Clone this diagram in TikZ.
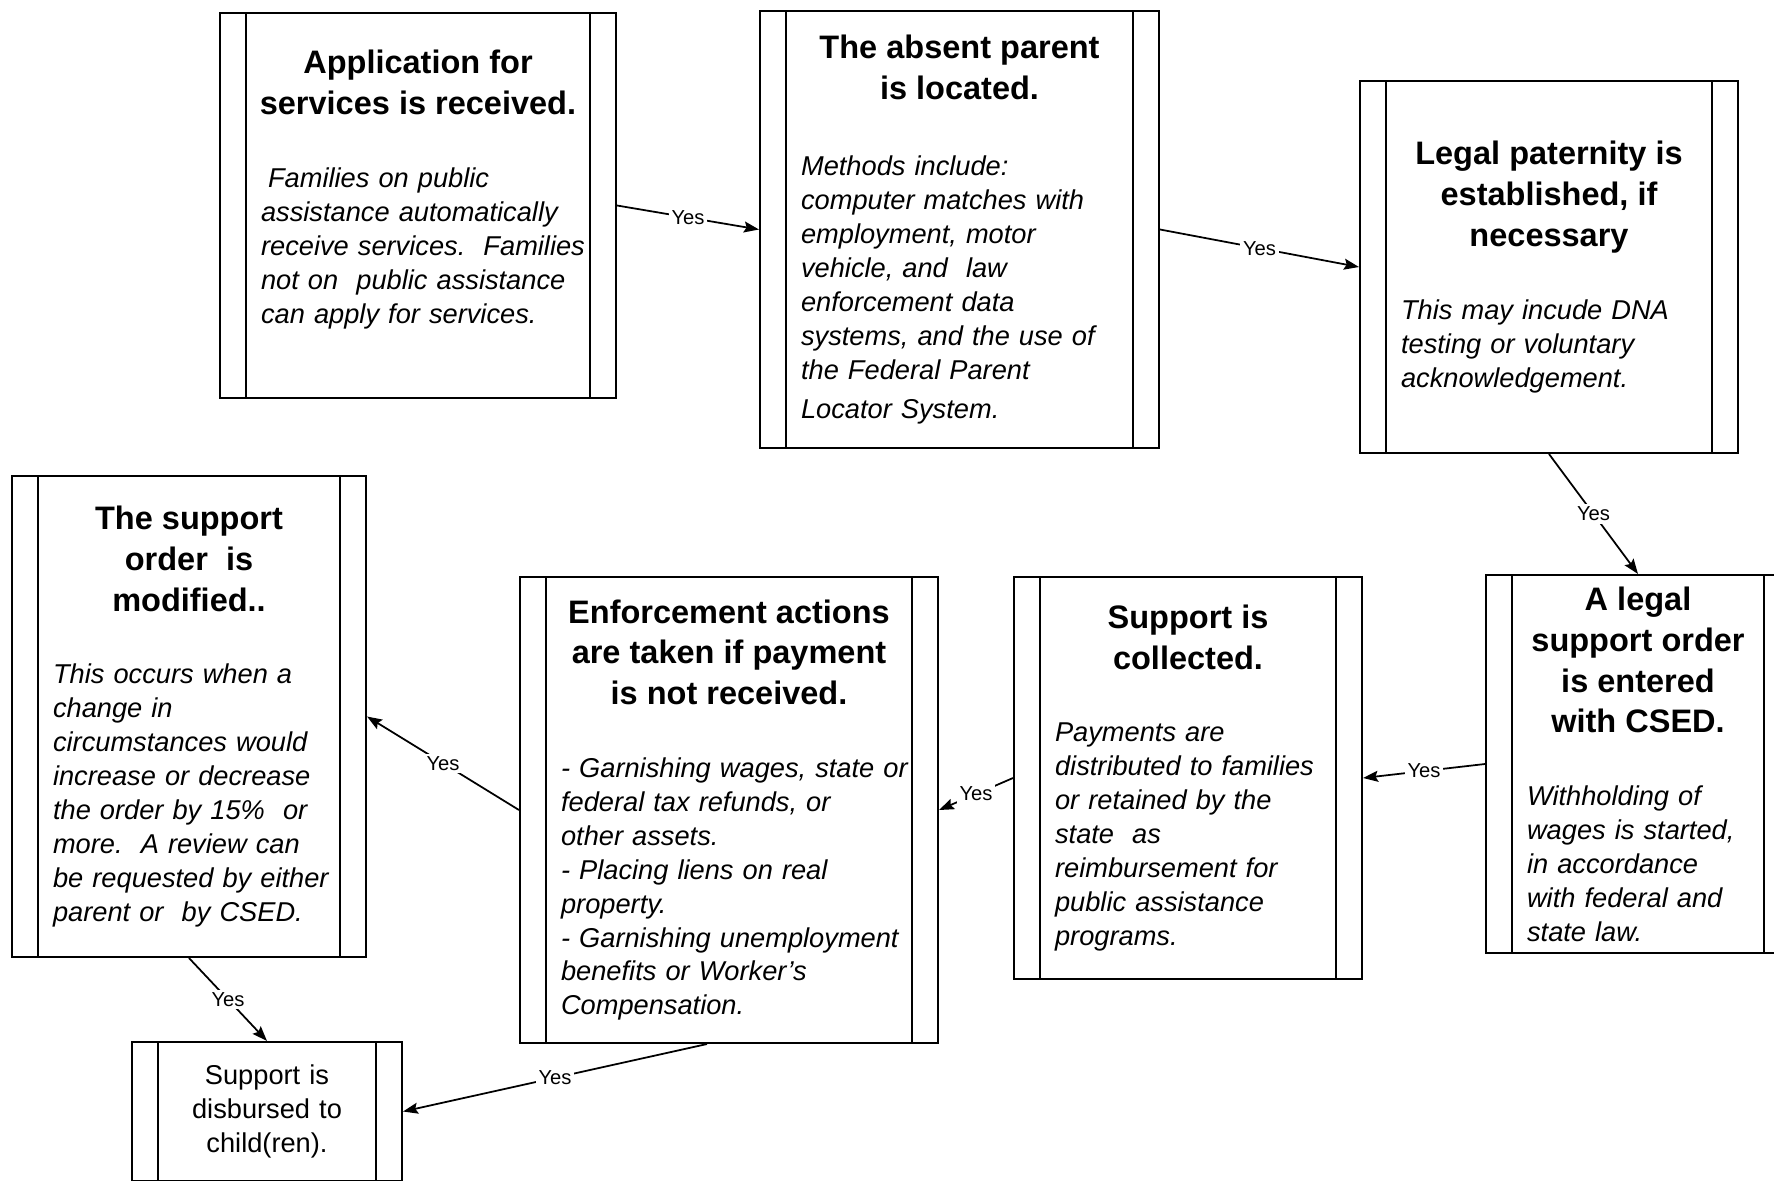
\documentclass[tikz,border=0pt]{standalone}
\usepackage{fontspec}
\setmainfont{Liberation Sans}
\usetikzlibrary{arrows.meta}

\newcommand{\steptext}[2]{{\centering\bfseries\upshape\fontsize{18.5}{23.3}\selectfont #1\par}\vspace{22pt}%
	{\leftskip=4pt\rightskip=-4pt plus 1fil\relax #2\par}}

\begin{document}
\begin{tikzpicture}[x=0.02cm, y=-0.02cm,
			stepbox/.style={draw, line width=1.2pt, fill=white, inner xsep=0.68cm, inner ysep=0pt,
				align=left, font=\itshape\fontsize{15.5}{19.3}\selectfont,
				path picture={\draw[line width=1.2pt]
					([xshift=0.52cm]path picture bounding box.north west) -- ([xshift=0.52cm]path picture bounding box.south west)
					([xshift=-0.52cm]path picture bounding box.north east) -- ([xshift=-0.52cm]path picture bounding box.south east);}},
			flow/.style={-{Stealth[length=0.3cm,width=0.22cm,inset=0.05cm]}, line width=1pt},
			yes/.style={fill=white, inner sep=1.5pt, font=\fontsize{11.5}{13}\selectfont}]
			\useasboundingbox (0,0) rectangle (1774,1180);
			\node[stepbox, text width=6.56cm, minimum height=7.70cm] (apply) at (418,205.5)
				{\steptext{Application for\\services is received.}
				{\hspace{4pt}Families on public\\assistance automatically\\receive services.\ \ Families\\not on\ \ public assistance\\can apply for services.\\[2pt]\mbox{}}};
			\node[stepbox, text width=6.62cm, minimum height=8.74cm] (locate) at (959.5,229.5)
				{\steptext{The absent parent\\is located.}
				{\vspace{2pt}Methods include:\\computer matches with\\employment, motor\\vehicle, and\ \ law\\enforcement data\\systems, and the use of\\the Federal Parent\\[3pt]Locator System.}};
			\node[stepbox, text width=6.20cm, minimum height=7.44cm] (paternity) at (1549,267)
				{\steptext{Legal paternity is\\established, if\\necessary}
				{This may incude DNA\\testing or voluntary\\acknowledgement.}};
			\node[stepbox, text width=4.72cm, minimum height=7.56cm] (order) at (1638,764)
				{\steptext{A legal\\support order\\is entered\\with CSED.}
				{Withholding of\\wages is started,\\in accordance\\with federal and\\state law.}};
			\node[stepbox, text width=5.60cm, minimum height=8.04cm] (collect) at (1188,778)
				{\steptext{Support is\\collected.}
				{Payments are\\distributed to families\\or retained by the\\state\ \ as\\reimbursement for\\public assistance\\programs.}};
			\node[stepbox, text width=7.00cm, minimum height=9.32cm] (enforce) at (729,810)
				{\steptext{Enforcement actions\\are taken if payment\\is not received.}
				{- Garnishing wages, state or\\federal tax refunds, or\\other assets.\\- Placing liens on real\\property.\\- Garnishing unemployment\\benefits or Worker's\\Compensation.}};
			\node[stepbox, text width=5.72cm, minimum height=9.62cm] (modify) at (189,716.5)
				{\steptext{The support\\order\ \ is\\modified..}
				{This occurs when a\\change in\\circumstances would\\increase or decrease\\the order by 15\%\ \ or\\more.\ \ A review can\\be requested by either\\parent or\ \ by CSED.}};
			\node[stepbox, text width=4.04cm, minimum height=2.78cm, align=center, font=\upshape\fontsize{15.5}{19.3}\selectfont] (disburse) at (267,1111.5)
				{Support is\\disbursed to\\child(ren).};
			\draw[flow] (apply.east) -- node[yes] {Yes} (locate.west);
			\draw[flow] (locate.east) -- node[yes] {Yes} (paternity.west);
			\draw[flow] (paternity.south) -- node[yes] {Yes} (order.north);
			\draw[flow] (order.west) -- node[yes] {Yes} (collect.east);
			\draw[flow] (collect.west) -- node[yes] {Yes} (enforce.east);
			\draw[flow] (enforce.west) -- node[yes] {Yes} (modify.east);
			\draw[flow] (modify.south) -- node[yes] {Yes} (disburse.north);
			\draw[flow] ([xshift=-0.44cm]enforce.south) -- node[yes] {Yes} (disburse.east);
			\end{tikzpicture}
\end{document}
